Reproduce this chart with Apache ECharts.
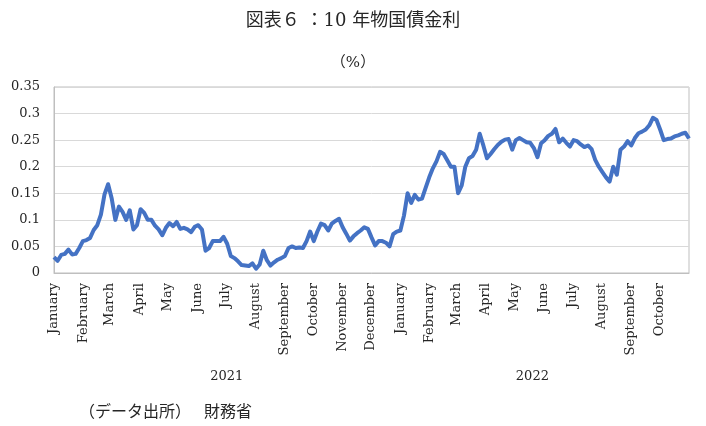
<!DOCTYPE html>
<html>
<head>
<meta charset="utf-8">
<script src="https://cdn.jsdelivr.net/npm/echarts@6/dist/echarts.min.js"></script>
<style>
  html, body { margin: 0; padding: 0; background: #fff; }
  #chart { width: 706px; height: 426px; }
</style>
</head>
<body>
<div id="chart"></div>
<script>
// 10年物国債金利 (%), 8 readings per month
const rate2021 = [
  0.030, 0.023, 0.034, 0.036, 0.044, 0.035, 0.036, 0.047, // Jan
  0.060, 0.062, 0.066, 0.081, 0.090, 0.110, 0.148, 0.167, // Feb
  0.140, 0.100, 0.125, 0.115, 0.100, 0.118, 0.082, 0.090, // Mar
  0.120, 0.113, 0.100, 0.100, 0.089, 0.082, 0.071, 0.085, // Apr
  0.094, 0.088, 0.096, 0.083, 0.085, 0.082, 0.077, 0.087, // May
  0.090, 0.082, 0.042, 0.047, 0.060, 0.060, 0.060, 0.068, // Jun
  0.055, 0.032, 0.028, 0.022, 0.015, 0.014, 0.013, 0.018, // Jul
  0.008, 0.016, 0.042, 0.024, 0.014, 0.020, 0.025, 0.028, // Aug
  0.032, 0.047, 0.050, 0.047, 0.048, 0.047, 0.060, 0.078, // Sep
  0.060, 0.078, 0.093, 0.090, 0.080, 0.093, 0.098, 0.102, // Oct
  0.086, 0.074, 0.061, 0.069, 0.075, 0.080, 0.086, 0.083, // Nov
  0.067, 0.052, 0.060, 0.060, 0.057, 0.050, 0.073, 0.078  // Dec
]
const rate2022 = [
  0.080, 0.108, 0.150, 0.132, 0.147, 0.138, 0.140, 0.160, // Jan
  0.180, 0.197, 0.210, 0.228, 0.224, 0.212, 0.200, 0.200, // Feb
  0.150, 0.165, 0.200, 0.216, 0.220, 0.232, 0.262, 0.240, // Mar
  0.216, 0.224, 0.233, 0.241, 0.247, 0.251, 0.252, 0.232, // Apr
  0.250, 0.254, 0.250, 0.246, 0.245, 0.235, 0.218, 0.244, // May
  0.250, 0.258, 0.262, 0.271, 0.246, 0.253, 0.245, 0.238, // Jun
  0.250, 0.248, 0.242, 0.237, 0.240, 0.233, 0.213, 0.200, // Jul
  0.190, 0.180, 0.172, 0.200, 0.185, 0.232, 0.238, 0.248, // Aug
  0.240, 0.254, 0.263, 0.266, 0.270, 0.278, 0.292, 0.288, // Sep
  0.270, 0.250, 0.252, 0.253, 0.257, 0.259, 0.262, 0.264, // Oct
  0.253
]
const monthNames = ['January', 'February', 'March', 'April', 'May', 'June',
  'July', 'August', 'September', 'October', 'November', 'December']
const years = ['2021', '2022']
const yearCenters = [182, 504] // days from 2021-01-01 where the year labels sit

const DAY = 86400000
const start = Date.UTC(2021, 0, 1)
const totalDays = (Date.UTC(2022, 10, 1) - start) / DAY // through end of Oct 2022

// month start ticks, Jan 2021 .. Oct 2022
const monthDays = []
for (let m = 0; m < 22; m++) {
  monthDays.push((Date.UTC(2021, m, 1) - start) / DAY)
}

const rates = rate2021.concat(rate2022)
const step = totalDays / (rates.length - 1)
const seriesData = rates.map((v, i) => [i * step, v])

const serif = "'DejaVu Serif', 'Noto Sans CJK JP', serif"
const textColor = '#262626'

const chart = echarts.init(document.getElementById('chart'))
chart.setOption({
  animation: false,
  backgroundColor: '#fff',
  title: [
    {
      text: '図表６ ：10 年物国債金利',
      left: 'center',
      top: 7,
      textStyle: { fontFamily: serif, fontSize: 18, fontWeight: 'normal', color: textColor }
    },
    {
      text: '（%）',
      left: 'center',
      top: 51,
      textStyle: { fontFamily: serif, fontSize: 15, fontWeight: 'normal', color: textColor }
    },
    {
      text: '（データ出所）　 財務省',
      left: 74,
      top: 400,
      textStyle: { fontFamily: serif, fontSize: 16, fontWeight: 'normal', color: textColor }
    }
  ],
  grid: {
    left: 54,
    right: 17,
    top: 87,
    bottom: 153,
    show: true,
    borderColor: '#bfbfbf',
    borderWidth: 1
  },
  xAxis: [
    {
      type: 'value',
      min: 0,
      max: totalDays,
      axisLine: { show: true, lineStyle: { color: '#bfbfbf' } },
      axisTick: { show: false },
      splitLine: { show: false },
      axisLabel: {
        customValues: monthDays,
        rotate: 90,
        margin: 10,
        fontFamily: serif,
        fontSize: 13,
        color: textColor,
        formatter: v => monthNames[monthDays.indexOf(v) % 12]
      }
    },
    {
      type: 'value',
      min: 0,
      max: totalDays,
      position: 'bottom',
      offset: 95,
      axisLine: { show: false },
      axisTick: { show: false },
      splitLine: { show: false },
      axisLabel: {
        customValues: yearCenters,
        margin: 2,
        fontFamily: serif,
        fontSize: 13,
        color: textColor,
        formatter: v => years[yearCenters.indexOf(v)]
      }
    }
  ],
  yAxis: {
    type: 'value',
    min: 0,
    max: 0.35,
    interval: 0.05,
    axisLine: { show: true, lineStyle: { color: '#bfbfbf' } },
    axisTick: { show: false },
    splitLine: { lineStyle: { color: '#d9d9d9' } },
    axisLabel: {
      margin: 14,
      fontFamily: serif,
      fontSize: 13,
      color: textColor
    }
  },
  series: [
    {
      type: 'line',
      xAxisIndex: 0,
      data: seriesData,
      showSymbol: false,
      lineStyle: { color: '#4472C4', width: 4, join: 'round' },
      itemStyle: { color: '#4472C4' }
    }
  ]
})
</script>
</body>
</html>
